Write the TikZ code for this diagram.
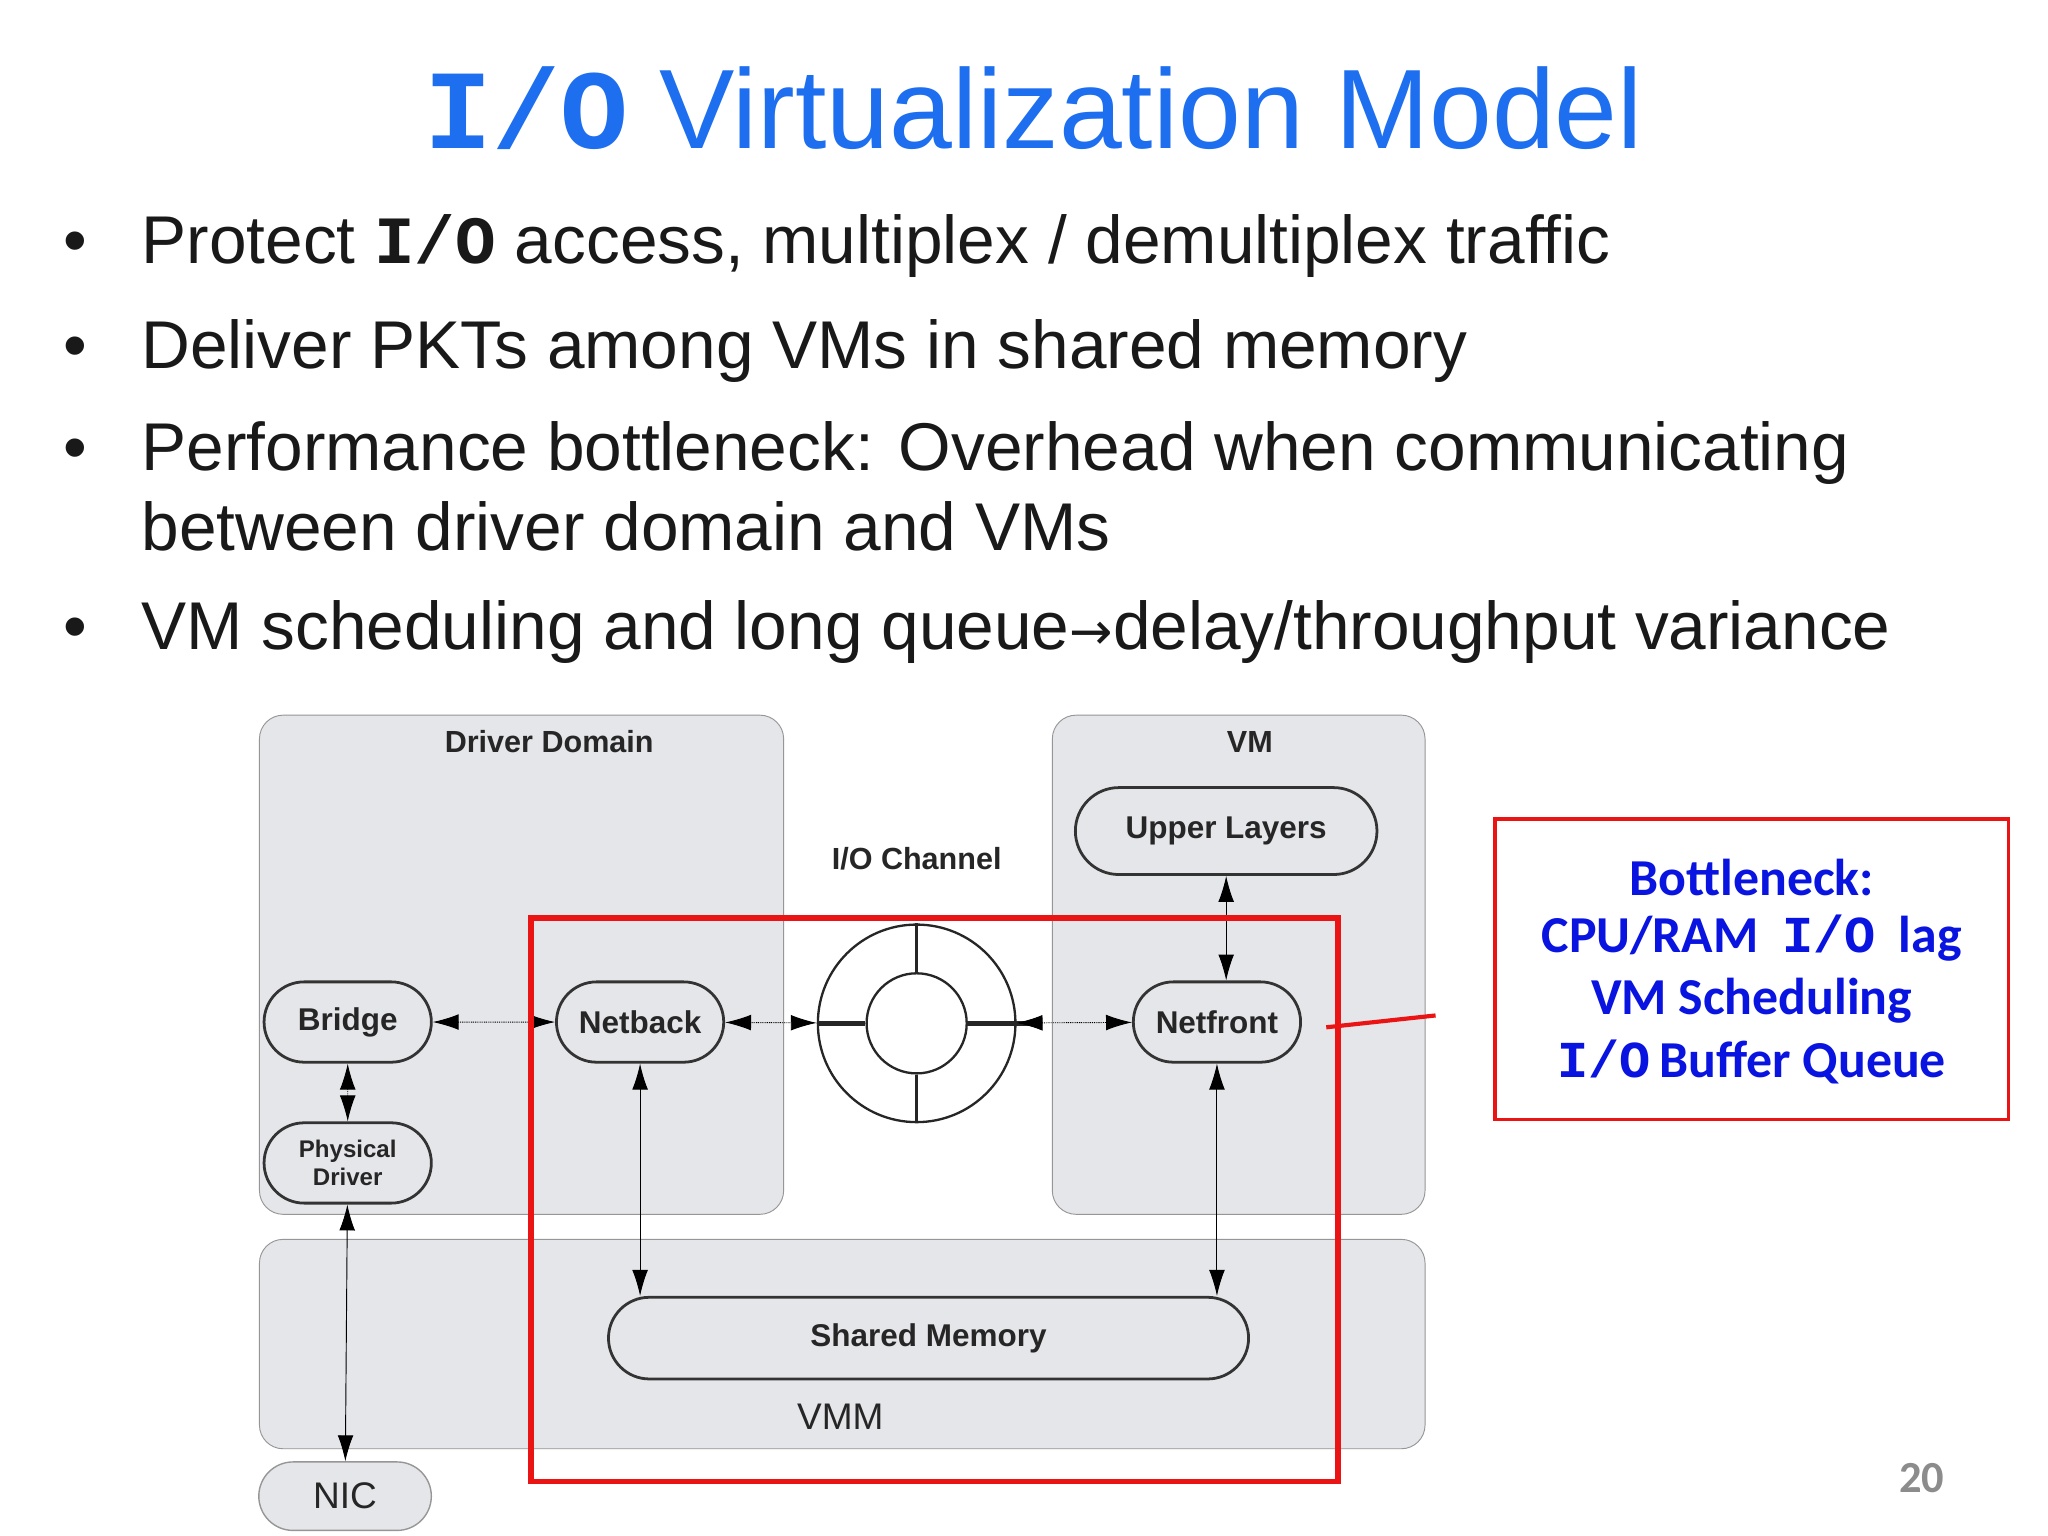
\documentclass[tikz,border=0pt]{standalone}
\usepackage{fontspec}
\setmainfont{Liberation Sans}
\newfontfamily\monof{Liberation Mono}
\newfontfamily\carl{Carlito}
\newfontfamily\djv{DejaVu Sans}
\usetikzlibrary{arrows.meta,shapes.misc}
\definecolor{ttl}{RGB}{30,110,240}
\definecolor{boxg}{RGB}{229,230,233}
\definecolor{bord}{RGB}{150,150,150}
\definecolor{dred}{RGB}{235,20,20}
\definecolor{bnb}{RGB}{10,20,225}
\begin{document}
\begin{tikzpicture}[x=0.05cm,y=-0.05cm,
  region/.style={draw=bord,fill=boxg,rounded corners=0.9cm,line width=1pt},
  pill/.style={draw=black!80,line width=3pt,rounded rectangle,font=\bfseries\fontsize{34}{38}\selectfont,text=black!85,inner sep=0pt},
  lbl/.style={font=\bfseries\fontsize{33}{36}\selectfont,text=black!85},
  bul/.style={anchor=base west,font=\fontsize{73}{86}\selectfont,text=black!90},
  dot/.style={anchor=base,font=\fontsize{73}{86}\selectfont,text=black!90},
  arr/.style={{Latex[length=28pt,width=17pt]}-{Latex[length=28pt,width=17pt]},line width=1pt},
  darr/.style={arr,densely dotted},
  bn/.style={font=\carl\bfseries\fontsize{56}{60}\selectfont,text=bnb}]
\useasboundingbox (0,0) rectangle (1555,1166);
\fill[white] (0,0) rectangle (1555,1166);
% title
\node[font=\fontsize{122}{134}\selectfont,text=ttl,anchor=base] (title) at (785,113) {{\monof\bfseries I/O} Virtualization Model};
% bullets
\foreach \y in {200,280,357,493} \node[dot] at (57,\y) {•};
\node[bul] (b1) at (105,200) {Protect {\monof\bfseries I/O} access, multiplex / demultiplex traffic};
\node[bul] (b2) at (105,280) {Deliver PKTs among VMs in shared memory};
\node[bul] (b3) at (105,357) {Performance bottleneck: Overhead when communicating};
\node[bul] (b3b) at (105,418) {between driver domain and VMs};
\node[bul] (b4) at (105,493) {VM scheduling and long queue{\djv\fontsize{56}{60}\selectfont →}delay/throughput variance};
% regions
\draw[region] (197,543) rectangle (595,922);
\draw[region] (799,543) rectangle (1082,922);
\draw[region] (197,941) rectangle (1082,1100);
\node[lbl] (dd) at (417,563) {Driver Domain};
\node[lbl] (vm) at (949,563) {VM};
\node[lbl] (ioc) at (696,652) {I/O Channel};
\node[font=\fontsize{40}{44}\selectfont,text=black!85] (vmm) at (638,1076) {VMM};
% nodes
\node[pill,minimum width=229*0.05cm,minimum height=66*0.05cm] (ul) at (931,631) {Upper Layers};
\node[pill,minimum width=127*0.05cm,minimum height=61*0.05cm] (bridge) at (264,776) {Bridge};
\node[pill,minimum width=127*0.05cm,minimum height=61*0.05cm] (netback) at (486,776) {Netback};
\node[pill,minimum width=127*0.05cm,minimum height=61*0.05cm] (netfront) at (924,776) {Netfront};
\node[pill,minimum width=127*0.05cm,minimum height=61*0.05cm,align=center,font=\bfseries\fontsize{26}{31}\selectfont] (pd) at (264,883) {Physical\\Driver};
\node[pill,minimum width=486*0.05cm,minimum height=62*0.05cm] (sm) at (705,1016) {Shared Memory};
\node[draw=bord,fill=boxg,line width=1.5pt,rounded rectangle,minimum width=131*0.05cm,minimum height=52*0.05cm,font=\fontsize{40}{44}\selectfont,text=black!85,inner sep=0pt] (nic) at (262,1136) {NIC};
% ring
\node[circle,draw=black!85,line width=2.5pt,minimum size=150*0.05cm,inner sep=0pt,fill=white] (ring) at (696,777) {};
\node[circle,draw=black!85,line width=2.5pt,minimum size=76*0.05cm,inner sep=0pt] (inner) at (696,777) {};
\draw[line width=3pt,black!85] (inner.north) -- (ring.north);
\draw[line width=3pt,black!85] (inner.south) -- (ring.south);
\draw[line width=5pt,black!85] (inner.west) -- (ring.west);
\draw[line width=5pt,black!85] (inner.east) -- ([xshift=10*0.05cm]ring.east);
% connectors
\draw[darr] (bridge) -- (netback);
\draw[darr] (netback) -- (ring);
\draw[darr] (ring) -- (netfront);
\draw[darr] (bridge) -- (pd);
\draw[arr] (pd) -- (nic);
\draw[arr] (netback.south) -- (netback.south |- sm.north);
\draw[arr] (netfront.south) -- (netfront.south |- sm.north);
\draw[arr] (ul.south) -- (ul.south |- netfront.north);
% red highlight
\draw[dred,line width=6pt] (403,697) rectangle (1016,1125);
\node[draw=dred,line width=4pt,minimum width=390*0.05cm,minimum height=228*0.05cm,inner sep=0pt] (bbox) at (1330,736) {};
\coordinate (rl) at (1007,780);
\draw[dred,line width=4.5pt] (rl) -- (1090,771);
\node[bn] (t1) at (1330,666) {Bottleneck:};
\node[bn] (t2) at (1330,712) {CPU/RAM\ \ {\monof I/O}\ \ lag};
\node[bn] (t3) at (1330,760) {VM Scheduling};
\node[bn] (t4) at (1330,806) {{\monof I/O}\,Buffer Queue};
\node[font=\carl\bfseries\fontsize{48}{52}\selectfont,text=black!45] (pg) at (1459,1122) {20};
\end{tikzpicture}
\end{document}
